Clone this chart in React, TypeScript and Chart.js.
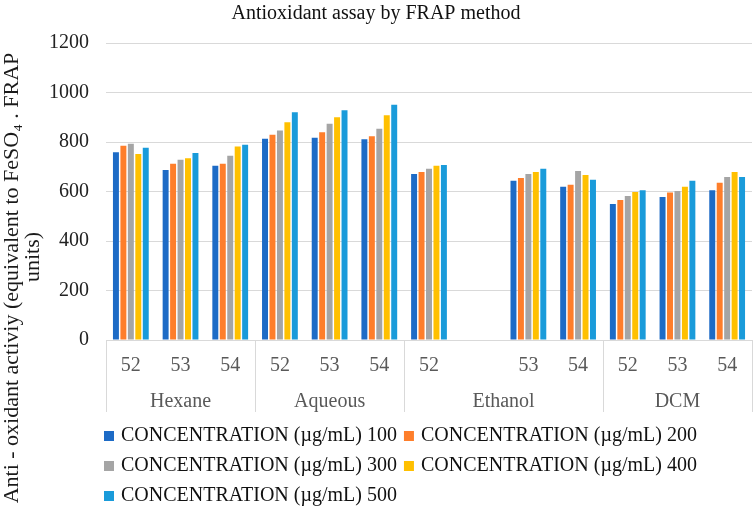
import React, { useEffect, useRef } from "react";
import { Chart, registerables } from "chart.js";

Chart.register(...registerables);

const subLabels = ["52", "53", "54", "52", "53", "54", "52", "", "53", "54", "52", "53", "54"];
const groupNames = ["Hexane", "Aqueous", "Ethanol", "DCM"];
const groupStarts = [0, 3, 6, 10];
const groupEnds = [2, 5, 9, 12];

const seriesNames = [
  "CONCENTRATION (µg/mL) 100",
  "CONCENTRATION (µg/mL) 200",
  "CONCENTRATION (µg/mL) 300",
  "CONCENTRATION (µg/mL) 400",
  "CONCENTRATION (µg/mL) 500",
];
const c100 = [759, 687, 704, 813, 817, 811, 671, null, 643, 619, 550, 578, 605];
const c200 = [785, 712, 712, 829, 839, 823, 679, null, 655, 627, 566, 596, 635];
const c300 = [793, 728, 744, 846, 874, 854, 692, null, 671, 683, 582, 602, 659];
const c400 = [752, 734, 782, 880, 900, 908, 704, null, 679, 667, 598, 619, 679];
const c500 = [777, 756, 789, 920, 928, 951, 707, null, 692, 647, 605, 643, 659];
const seriesColors = ["#1D6BC6", "#FE7E2B", "#A5A5A5", "#FFC000", "#1A9BDA"];

const yTitleLine1 = "Anti - oxidant activiy (equivalent to FeSO₄ . FRAP";
const yTitleLine2 = "units)";
const chartTitle = "Antioxidant assay by FRAP method";

const FONT = "'Liberation Serif', 'Times New Roman', serif";

const extrasPlugin = {
  id: "extras",
  afterLayout(chart: any) {
    if (chart.legend) {
      chart.legend.left -= 9;
      chart.legend.right -= 9;
    }
  },
  afterDraw(chart: any) {
    const ctx = chart.ctx;
    const x = chart.scales.x;
    const top = x.top;
    const lineBottom = top + 72;
    const half = (x.getPixelForValue(1) - x.getPixelForValue(0)) / 2;
    ctx.save();
    ctx.strokeStyle = "#d9d9d9";
    ctx.lineWidth = 1;
    const bounds: number[] = [x.getPixelForValue(0) - half];
    groupEnds.forEach((e) => bounds.push(x.getPixelForValue(e) + half));
    bounds.forEach((b) => {
      const px = Math.round(b) + 0.5;
      ctx.beginPath();
      ctx.moveTo(px, top);
      ctx.lineTo(px, lineBottom);
      ctx.stroke();
    });
    ctx.fillStyle = "#595959";
    ctx.font = `20px ${FONT}`;
    ctx.textAlign = "center";
    ctx.textBaseline = "middle";
    groupNames.forEach((g, i) => {
      const l = x.getPixelForValue(groupStarts[i]) - half;
      const r = x.getPixelForValue(groupEnds[i]) + half;
      ctx.fillText(g, (l + r) / 2, top + 62);
    });
    // y axis title
    ctx.fillStyle = "#1a1a1a";
    ctx.font = `22px ${FONT}`;
    ctx.save();
    ctx.translate(12, 278);
    ctx.rotate(-Math.PI / 2);
    ctx.fillText(yTitleLine1, 0, 0);
    ctx.restore();
    ctx.save();
    ctx.translate(33, 257);
    ctx.rotate(-Math.PI / 2);
    ctx.fillText(yTitleLine2, 0, 0);
    ctx.restore();
    ctx.restore();
  },
};

export default function App() {
  const ref = useRef<HTMLCanvasElement | null>(null);
  useEffect(() => {
    document.body.style.margin = "0";
    if (!ref.current) return;
    const values = [c100, c200, c300, c400, c500];
    const chart = new Chart(ref.current, {
      type: "bar",
      data: {
        labels: subLabels,
        datasets: values.map((v, i) => ({
          label: seriesNames[i],
          data: v,
          backgroundColor: seriesColors[i],
          borderWidth: 0,
          categoryPercentage: 0.75,
          barPercentage: 0.8,
        })),
      },
      options: {
        responsive: false,
        animation: false,
        layout: { padding: { left: 0, right: 2, top: 0, bottom: -4 } },
        plugins: {
          title: {
            display: true,
            text: chartTitle,
            color: "#111",
            font: { family: FONT, size: 20, weight: "normal" },
            padding: { top: 2, bottom: 17 },
          },
          legend: {
            position: "bottom",
            align: "start",
            fullSize: false,
            labels: {
              usePointStyle: true,
              pointStyle: "rect",
              boxWidth: 4,
              boxHeight: 10,
              padding: 10,
              color: "#111",
              font: { family: FONT, size: 20, weight: "normal" },
            },
          },
          tooltip: { enabled: false },
        },
        scales: {
          x: {
            grid: { display: false, drawTicks: false },
            border: { display: true, color: "#d9d9d9" },
            ticks: {
              color: "#595959",
              font: { family: FONT, size: 20, weight: "normal" },
              padding: 14,
              maxRotation: 0,
              autoSkip: false,
            },
            afterFit: (s: any) => {
              s.height = 76;
            },
          },
          y: {
            min: 0,
            max: 1200,
            grid: { color: "#d9d9d9", drawTicks: false },
            border: { display: false },
            ticks: {
              stepSize: 200,
              color: "#222",
              padding: 17,
              font: { family: FONT, size: 20, weight: "normal" },
              callback: (v: any) => String(v),
            },
            afterFit: (s: any) => {
              s.width = 106;
            },
          },
        },
      },
      plugins: [extrasPlugin],
    });
    return () => chart.destroy();
  }, []);
  return (
    <div style={{ width: 754, height: 512 }}>
      <canvas ref={ref} width={754} height={512} />
    </div>
  );
}
